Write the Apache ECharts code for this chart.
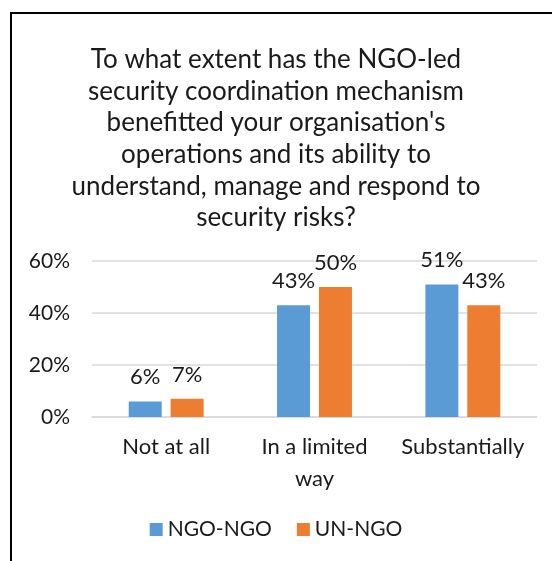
<!DOCTYPE html>
<html>
<head>
<meta charset="utf-8">
<script src="https://cdn.jsdelivr.net/npm/echarts@6/dist/echarts.min.js"></script>
<style>
  html, body { margin: 0; padding: 0; background: #fff; }
  #chart { width: 552px; height: 561px; }
</style>
</head>
<body>
<div id="chart"></div>
<script>
// Survey answers and the share of respondents per group
const categories = ['Not at all', 'In a limited\nway', 'Substantially'];
const ngoNgo = [6, 43, 51];
const unNgo = [7, 50, 43];
const seriesNames = ['NGO-NGO', 'UN-NGO'];
const titleText = 'To what extent has the NGO-led\nsecurity coordination mechanism\nbenefitted your organisation\'s\noperations and its ability to\nunderstand, manage and respond to\nsecurity risks?';

const FONT = 'Lato, "Open Sans", sans-serif';
const TEXT = '#1a1a1a';

const chart = echarts.init(document.getElementById('chart'), null, { renderer: 'canvas' });

const labelStyle = {
  show: true,
  position: 'top',
  distance: 13,
  formatter: p => p.value + '%',
  fontFamily: FONT,
  fontSize: 22,
  color: TEXT
};

chart.setOption({
  animation: false,
  backgroundColor: '#fff',
  title: {
    text: titleText,
    left: 'center',
    top: 39,
    textStyle: {
      fontFamily: FONT,
      fontSize: 26,
      fontWeight: 'normal',
      color: TEXT,
      lineHeight: 31.6
    }
  },
  grid: { left: 92, right: 15, top: 261, bottom: 144, containLabel: false },
  legend: {
    data: seriesNames,
    bottom: 16,
    left: 'center',
    itemWidth: 13,
    itemHeight: 13,
    itemGap: 25,
    icon: 'rect',
    textStyle: { fontFamily: FONT, fontSize: 21, color: TEXT }
  },
  xAxis: {
    type: 'category',
    data: categories,
    axisLine: { lineStyle: { color: '#d9d9d9', width: 1.5 } },
    axisTick: { show: false },
    axisLabel: {
      fontFamily: FONT,
      fontSize: 22,
      color: TEXT,
      lineHeight: 32,
      margin: 14,
      interval: 0
    }
  },
  yAxis: {
    type: 'value',
    min: 0,
    max: 60,
    interval: 20,
    axisLine: { show: false },
    axisTick: { show: false },
    splitLine: { lineStyle: { color: '#d9d9d9', width: 1.5 } },
    axisLabel: {
      formatter: '{value}%',
      fontFamily: FONT,
      fontSize: 21,
      color: TEXT,
      margin: 22
    }
  },
  series: [
    {
      name: seriesNames[0],
      type: 'bar',
      data: ngoNgo,
      barWidth: 33,
      barGap: '27%',
      itemStyle: { color: '#5b9bd5' },
      label: labelStyle
    },
    {
      name: seriesNames[1],
      type: 'bar',
      data: unNgo,
      barWidth: 33,
      itemStyle: { color: '#ed7d31' },
      label: labelStyle
    }
  ],
  graphic: [
    {
      type: 'rect',
      silent: true,
      shape: { x: 11, y: 13, width: 700, height: 700 },
      style: { fill: 'none', stroke: '#000', lineWidth: 2 }
    }
  ]
});
</script>
</body>
</html>
